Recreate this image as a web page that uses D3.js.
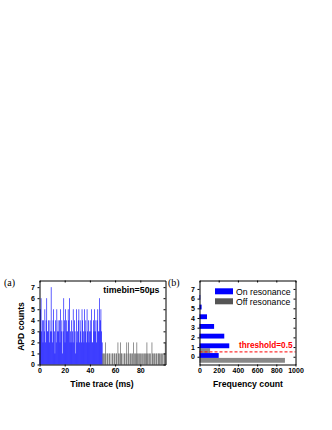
<!DOCTYPE html>
<html>
<head>
<meta charset="utf-8">
<script src="https://cdn.jsdelivr.net/npm/d3@7"></script>
<style>
  body { margin: 0; background: #fff; }
</style>
</head>
<body>
<div id="chart"></div>
<script>
// APD counts per 0.5 ms step
const binMs = 0.5;
const onTrace = [
  3,5,6,3,4,2,4,3,5,2, 4,6,3,3,4,2,4,3,7,3,
  2,4,5,3,1,4,2,5,3,4, 3,4,2,5,3,4,1,3,6,4,
  2,5,4,3,3,5,4,6,2,3, 4,2,3,5,2,4,3,1,5,2,
  3,4,5,2,4,3,2,5,4,3, 2,5,3,4,2,5,3,4,2,3,
  4,3,5,2,2,4,3,5,3,4, 2,4,5,3,3,6,4,5,3,2
];
const offTrace = [
  1,1,0,1,2,1,0,1,1,0, 1,1,0,1,0,1,1,0,1,1,
  0,1,1,0,2,1,1,0,2,1, 1,0,1,0,1,1,0,1,2,0,
  1,2,0,1,1,0,1,1,0,2, 1,0,1,1,2,1,0,1,1,0,
  1,1,0,1,0,1,1,0,1,1, 2,1,0,1,1,0,1,0,2,1,
  1,0,1,1,0,1,1,0,1,1, 1,0,1,1,0,1,0,1,1,2
];
const offStartMs = 50;

// histogram of panel (b)
const levels = [0, 1, 2, 3, 4, 5, 6, 7];
const onCounts = [200, 310, 258, 152, 78, 22, 8, 1];
const offCounts = [890, 110, 4, 0, 0, 0, 0, 0];
const threshold = 0.5;

// tick values
const traceXTicks = [0, 20, 40, 60, 80];
const countTicks = [0, 1, 2, 3, 4, 5, 6, 7];
const freqTicks = [0, 200, 400, 600, 800, 1000];

const blue = "#0000ff", grey = "#555555";
const sans = "Liberation Sans, Arial, sans-serif";
const serif = "Liberation Serif, Times New Roman, serif";

const svg = d3.select("#chart").append("svg")
    .attr("width", 332)
    .attr("height", 430)
    .style("font-family", sans);

// mirrored frame: outward ticks bottom/left, inward ticks top/right
function frame(g, x, y, xTicks, yTicks) {
    const [x0, x1] = x.range(), [y0, y1] = y.range();
    g.append("g").attr("transform", `translate(0,${y0})`)
        .call(d3.axisBottom(x).tickValues(xTicks).tickFormat(d3.format("d"))
            .tickSize(2).tickPadding(1.5).tickSizeOuter(0));
    g.append("g").attr("transform", `translate(${x0},0)`)
        .call(d3.axisLeft(y).tickValues(yTicks).tickFormat(d3.format("d"))
            .tickSize(2).tickPadding(2.5).tickSizeOuter(0));
    g.append("g").attr("transform", `translate(0,${y1})`)
        .call(d3.axisTop(x).tickValues(xTicks).tickSize(-2).tickFormat("").tickSizeOuter(0));
    g.append("g").attr("transform", `translate(${x1},0)`)
        .call(d3.axisRight(y).tickValues(yTicks).tickSize(-2).tickFormat("").tickSizeOuter(0));
    g.selectAll(".tick text")
        .style("font-family", sans)
        .style("font-size", "7px")
        .style("font-weight", "bold")
        .attr("fill", "#000");
    g.selectAll(".domain, .tick line").attr("stroke", "#000");
}

// ---------- panel (a): time trace ----------
const xT = d3.scaleLinear().domain([0, 100]).range([39.5, 165.5]);
const yT = d3.scaleLinear().domain([0, 7.6]).range([364.5, 280.5]);
const ga = svg.append("g");
const stepW = xT(binMs) - xT(0);

ga.append("g").selectAll("rect")
    .data(onTrace)
    .join("rect")
    .attr("x", (d, i) => xT(i * binMs))
    .attr("width", stepW)
    .attr("y", d => yT(d))
    .attr("height", d => yT(0) - yT(d))
    .attr("fill", blue);

ga.append("g").selectAll("rect")
    .data(offTrace)
    .join("rect")
    .attr("x", (d, i) => xT(offStartMs + i * binMs))
    .attr("width", stepW)
    .attr("y", d => yT(d))
    .attr("height", d => yT(0) - yT(d))
    .attr("fill", grey);

frame(ga, xT, yT, traceXTicks, countTicks);

ga.append("text")
    .attr("x", 159.5).attr("y", 293)
    .attr("text-anchor", "end")
    .style("font-size", "8.8px").style("font-weight", "bold")
    .text("timebin=50\u00b5s");

ga.append("text")
    .attr("x", 102).attr("y", 386.5)
    .attr("text-anchor", "middle")
    .style("font-size", "8.6px").style("font-weight", "bold")
    .text("Time trace (ms)");

ga.append("text")
    .attr("transform", "translate(23.5,326.5) rotate(-90)")
    .attr("text-anchor", "middle")
    .style("font-size", "8.6px").style("font-weight", "bold")
    .text("APD counts");

ga.append("text")
    .attr("x", 4).attr("y", 285.5)
    .style("font-family", serif)
    .style("font-size", "10px")
    .text("(a)");

// ---------- panel (b): histogram ----------
const xH = d3.scaleLinear().domain([0, 1000]).range([199.5, 295.5]);
const yH = d3.scaleLinear().domain([-0.8, 7.87]).range([364.5, 280.5]);
const gb = svg.append("g");

gb.append("g").selectAll("rect")
    .data(levels)
    .join("rect")
    .attr("x", xH(0))
    .attr("width", (d, i) => xH(offCounts[i]) - xH(0))
    .attr("y", d => yH(d - 0.12))
    .attr("height", yH(-0.5) - yH(0))
    .attr("fill", grey)
    .attr("fill-opacity", 0.7);

gb.append("g").selectAll("rect")
    .data(levels)
    .join("rect")
    .attr("x", xH(0))
    .attr("width", (d, i) => xH(onCounts[i]) - xH(0))
    .attr("y", d => yH(d + 0.38))
    .attr("height", yH(-0.5) - yH(0))
    .attr("fill", blue);

gb.append("line")
    .attr("x1", xH(0)).attr("x2", xH(1000))
    .attr("y1", yH(threshold)).attr("y2", yH(threshold))
    .attr("stroke", "#ff0000")
    .attr("stroke-width", 1)
    .attr("stroke-dasharray", "3,2");

frame(gb, xH, yH, freqTicks, countTicks);

gb.append("text")
    .attr("x", 292.5).attr("y", 347.5)
    .attr("text-anchor", "end")
    .style("font-size", "8.2px").style("font-weight", "bold")
    .attr("fill", "#ff0000")
    .text("threshold=0.5");

// legend
const legend = [
    { label: "On resonance", color: blue },
    { label: "Off resonance", color: grey }
];
const lg = gb.append("g").selectAll("g")
    .data(legend)
    .join("g")
    .attr("transform", (d, i) => `translate(215,${288.3 + i * 10})`);
lg.append("rect")
    .attr("width", 18).attr("height", 6)
    .attr("fill", d => d.color);
lg.append("text")
    .attr("x", 21).attr("y", 6.2)
    .style("font-size", "8.7px")
    .text(d => d.label);

gb.append("text")
    .attr("x", 248).attr("y", 386.5)
    .attr("text-anchor", "middle")
    .style("font-size", "8.7px").style("font-weight", "bold")
    .text("Frequency count");

gb.append("text")
    .attr("x", 168).attr("y", 285.5)
    .style("font-family", serif)
    .style("font-size", "10px")
    .text("(b)");
</script>
</body>
</html>
